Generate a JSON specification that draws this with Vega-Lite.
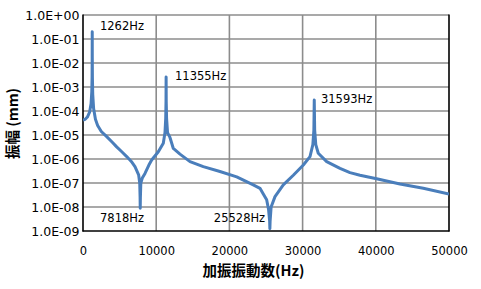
{
  "$schema": "https://vega.github.io/schema/vega-lite/v6.json",
  "width": 366,
  "height": 216,
  "autosize": {"type": "none"},
  "padding": {"left": 83, "top": 15, "right": 32, "bottom": 58},
  "background": "white",
  "config": {
    "view": {"stroke": null},
    "font": "DejaVu Sans",
    "axis": {
      "labelFont": "DejaVu Sans",
      "labelFontSize": 11.5,
      "labelColor": "#000000",
      "tickSize": 0,
      "domain": false,
      "grid": false,
      "titleFont": "Noto Sans CJK JP",
      "titleFontWeight": "bold",
      "titleFontSize": 14.5,
      "titleColor": "#000000"
    }
  },
  "datasets": {
    "hgrid": [{"a": 1}, {"a": 1e-1}, {"a": 1e-2}, {"a": 1e-3}, {"a": 1e-4}, {"a": 1e-5}, {"a": 1e-6}, {"a": 1e-7}, {"a": 1e-8}],
    "vgrid": [{"f": 10000}, {"f": 20000}, {"f": 30000}, {"f": 40000}],
    "vframe": [{"f": 0}, {"f": 50000}],
    "hframe": [{"a": 1e-9}],
    "curve": [
      {"f": 0, "a": 4.2e-5},
      {"f": 300, "a": 4.5e-5},
      {"f": 600, "a": 5.6e-5},
      {"f": 900, "a": 8.9e-5},
      {"f": 1100, "a": 2.0e-4},
      {"f": 1200, "a": 6.3e-4},
      {"f": 1240, "a": 2.5e-3},
      {"f": 1255, "a": 1.6e-2},
      {"f": 1262, "a": 0.2},
      {"f": 1270, "a": 1.6e-2},
      {"f": 1285, "a": 2.5e-3},
      {"f": 1330, "a": 5.0e-4},
      {"f": 1450, "a": 1.26e-4},
      {"f": 1700, "a": 4.5e-5},
      {"f": 2000, "a": 2.5e-5},
      {"f": 2500, "a": 1.4e-5},
      {"f": 3240, "a": 8.5e-6},
      {"f": 4000, "a": 5.0e-6},
      {"f": 4600, "a": 3.2e-6},
      {"f": 5300, "a": 2.0e-6},
      {"f": 5970, "a": 1.26e-6},
      {"f": 6600, "a": 7.9e-7},
      {"f": 7100, "a": 4.8e-7},
      {"f": 7600, "a": 2.2e-7},
      {"f": 7750, "a": 1.0e-7},
      {"f": 7800, "a": 2.5e-8},
      {"f": 7818, "a": 8.9e-9},
      {"f": 7840, "a": 2.5e-8},
      {"f": 7900, "a": 1.0e-7},
      {"f": 8100, "a": 1.6e-7},
      {"f": 8470, "a": 2.5e-7},
      {"f": 9000, "a": 5.6e-7},
      {"f": 9380, "a": 9.1e-7},
      {"f": 10290, "a": 2.0e-6},
      {"f": 10970, "a": 4.5e-6},
      {"f": 11200, "a": 1.26e-5},
      {"f": 11300, "a": 5.0e-5},
      {"f": 11340, "a": 2.5e-4},
      {"f": 11355, "a": 2.6e-3},
      {"f": 11370, "a": 2.5e-4},
      {"f": 11420, "a": 5.0e-5},
      {"f": 11550, "a": 1.26e-5},
      {"f": 11880, "a": 7.9e-6},
      {"f": 12340, "a": 2.75e-6},
      {"f": 13250, "a": 1.6e-6},
      {"f": 14620, "a": 7.8e-7},
      {"f": 16430, "a": 4.8e-7},
      {"f": 18710, "a": 3.0e-7},
      {"f": 21000, "a": 1.8e-7},
      {"f": 23260, "a": 8.3e-8},
      {"f": 24180, "a": 6.0e-8},
      {"f": 24630, "a": 3.5e-8},
      {"f": 25090, "a": 2.0e-8},
      {"f": 25350, "a": 7.9e-9},
      {"f": 25500, "a": 2.5e-9},
      {"f": 25528, "a": 1.26e-9},
      {"f": 25560, "a": 2.5e-9},
      {"f": 25700, "a": 1.0e-8},
      {"f": 26230, "a": 2.7e-8},
      {"f": 27360, "a": 8.3e-8},
      {"f": 28730, "a": 2.1e-7},
      {"f": 30100, "a": 5.6e-7},
      {"f": 31010, "a": 1.26e-6},
      {"f": 31400, "a": 4.0e-6},
      {"f": 31540, "a": 1.6e-5},
      {"f": 31593, "a": 2.9e-4},
      {"f": 31650, "a": 1.6e-5},
      {"f": 31800, "a": 4.0e-6},
      {"f": 32140, "a": 1.74e-6},
      {"f": 33290, "a": 7.8e-7},
      {"f": 35110, "a": 4.1e-7},
      {"f": 36470, "a": 2.7e-7},
      {"f": 37840, "a": 2.1e-7},
      {"f": 40110, "a": 1.5e-7},
      {"f": 43300, "a": 9.1e-8},
      {"f": 46490, "a": 6.0e-8},
      {"f": 50000, "a": 3.5e-8}
    ],
    "peaks": [
      {"f": 2320, "a": 0.316, "t": "1262Hz"},
      {"f": 12570, "a": 2.6e-3, "t": "11355Hz"},
      {"f": 32510, "a": 2.9e-4, "t": "31593Hz"}
    ],
    "valleys": [
      {"f": 5330, "a": 3.2e-9, "t": "7818Hz"},
      {"f": 21380, "a": 3.2e-9, "t": "25528Hz"}
    ]
  },
  "layer": [
    {
      "data": {"name": "hgrid"},
      "mark": {"type": "tick", "orient": "horizontal", "size": 366, "thickness": 1.6, "color": "#8C8C8C", "opacity": 1},
      "encoding": {
        "x": {
          "datum": 25000, "type": "quantitative",
          "scale": {"domain": [0, 50000], "nice": false, "zero": false},
          "axis": {
            "values": [0, 10000, 20000, 30000, 40000, 50000],
            "format": "d",
            "labelFlush": false,
            "labelPadding": 14,
            "title": "加振振動数(Hz)",
            "titlePadding": 8,
            "titleX": 170
          }
        },
        "y": {
          "field": "a", "type": "quantitative",
          "scale": {"type": "log", "domain": [1e-9, 1], "nice": false},
          "axis": {
            "values": [1e-9, 1e-8, 1e-7, 1e-6, 1e-5, 1e-4, 1e-3, 1e-2, 1e-1, 1],
            "labelExpr": "'1.0E' + (round(log(datum.value)/LN10) < 0 ? '-' : '+') + (abs(round(log(datum.value)/LN10)) < 10 ? '0' : '') + abs(round(log(datum.value)/LN10))",
            "labelFontSize": 12.5,
            "labelPadding": 4,
            "labelFlush": false,
            "title": "振幅 (mm)",
            "titlePadding": 4
          }
        }
      }
    },
    {
      "data": {"name": "vgrid"},
      "mark": {"type": "tick", "orient": "vertical", "size": 216, "thickness": 1.6, "color": "#8C8C8C", "opacity": 1},
      "encoding": {
        "x": {"field": "f", "type": "quantitative"},
        "y": {"datum": 3.1623e-5, "type": "quantitative"}
      }
    },
    {
      "data": {"name": "vframe"},
      "mark": {"type": "tick", "orient": "vertical", "size": 217, "thickness": 1.6, "color": "#000000", "opacity": 1},
      "encoding": {
        "x": {"field": "f", "type": "quantitative"},
        "y": {"datum": 3.1623e-5, "type": "quantitative"}
      }
    },
    {
      "data": {"name": "hframe"},
      "mark": {"type": "tick", "orient": "horizontal", "size": 367, "thickness": 1.6, "color": "#000000", "opacity": 1},
      "encoding": {
        "x": {"datum": 25000, "type": "quantitative"},
        "y": {"field": "a", "type": "quantitative"}
      }
    },
    {
      "data": {"name": "curve"},
      "mark": {"type": "line", "color": "#4A7EBB", "strokeWidth": 3, "strokeJoin": "round", "clip": true},
      "encoding": {
        "x": {"field": "f", "type": "quantitative"},
        "y": {"field": "a", "type": "quantitative"}
      }
    },
    {
      "data": {"name": "peaks"},
      "mark": {"type": "text", "font": "DejaVu Sans", "fontSize": 11.5, "color": "#000000", "baseline": "middle", "align": "left"},
      "encoding": {
        "x": {"field": "f", "type": "quantitative"},
        "y": {"field": "a", "type": "quantitative"},
        "text": {"field": "t"}
      }
    },
    {
      "data": {"name": "valleys"},
      "mark": {"type": "text", "font": "DejaVu Sans", "fontSize": 11.5, "color": "#000000", "baseline": "middle", "align": "center"},
      "encoding": {
        "x": {"field": "f", "type": "quantitative"},
        "y": {"field": "a", "type": "quantitative"},
        "text": {"field": "t"}
      }
    }
  ]
}
